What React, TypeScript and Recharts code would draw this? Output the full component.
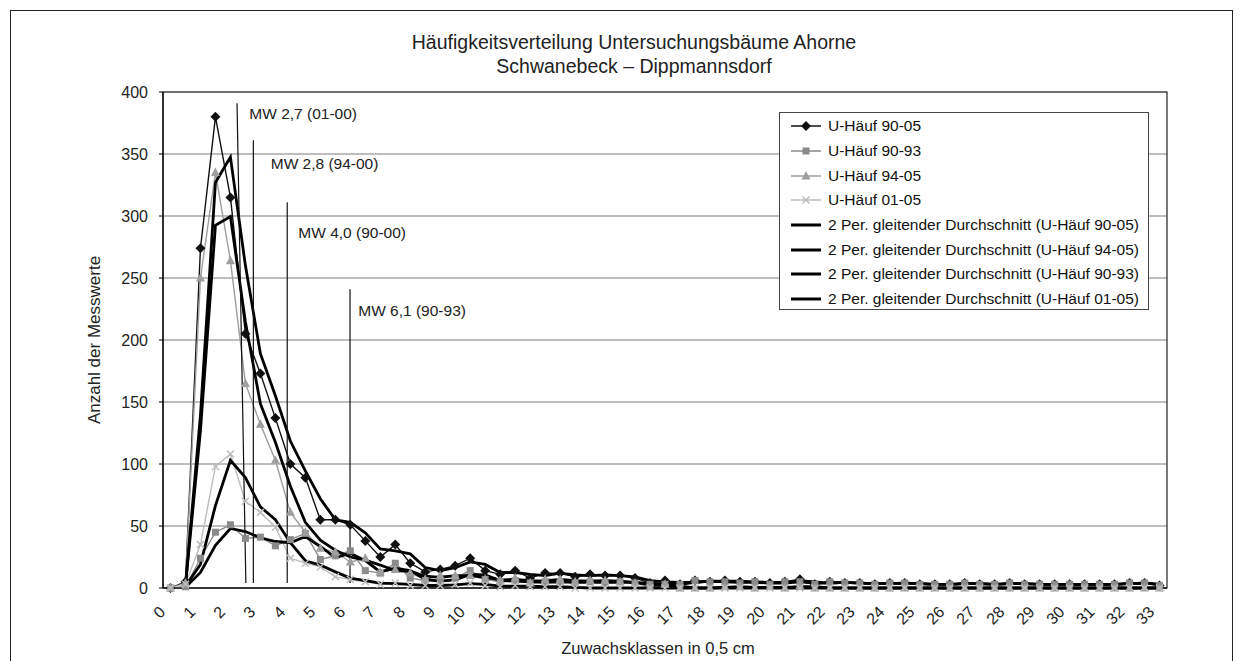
import React from "react";
import {
  LineChart,
  Line,
  XAxis,
  YAxis,
  CartesianGrid,
  ReferenceLine,
  ReferenceArea,
  ReferenceDot,
  Legend,
} from "recharts";

const FONT = '"Liberation Sans", Arial, sans-serif';

// x labels, one per whole class (every second 0,5 cm class)
const tickLabels = [
  "0", "1", "2", "3", "4", "5", "6", "7", "8", "9", "10", "11", "12", "13", "14", "15", "16",
  "17", "18", "19", "20", "21", "22", "23", "24", "25", "26", "27", "28", "29", "30", "31", "32", "33",
];

// counts per 0,5 cm class (67 classes: 0, 0,5, 1, ... 33)
const u9005 = [
  0, 5, 274, 380, 315, 205, 173, 137, 100, 89, 55, 55, 51, 38, 25, 35, 20, 13, 15, 18, 24, 14, 11, 14, 8, 12,
  12, 9, 11, 10, 10, 8, 4, 6, 3, 6, 5, 6, 5, 5, 4, 5, 7, 3, 5, 4, 4, 3, 4, 4, 3, 3, 3, 4, 3, 3, 4, 3, 3, 3, 3,
  3, 3, 3, 4, 4, 2,
];
const u9093 = [
  0, 1, 24, 45, 51, 40, 41, 34, 39, 44, 23, 26, 30, 14, 12, 20, 8, 6, 5, 8, 14, 7, 5, 6, 4, 5, 5, 4, 5, 4, 5,
  4, 3, 3, 3, 6, 5, 5, 4, 5, 3, 5, 5, 3, 5, 4, 4, 3, 4, 4, 3, 3, 3, 4, 3, 3, 4, 3, 3, 3, 3, 3, 3, 3, 4, 4, 2,
];
const u9405 = [
  0, 4, 250, 335, 264, 165, 132, 103, 61, 45, 32, 29, 21, 24, 13, 15, 12, 7, 10, 10, 10, 7, 6, 8, 4, 7, 7, 5,
  6, 6, 5, 4, 1, 3, 0, 0, 0, 1, 1, 0, 1, 0, 2, 0, 0, 0, 0, 0, 0, 0, 0, 0, 0, 0, 0, 0, 0, 0, 0, 0, 0, 0, 0, 0,
  0, 0, 0,
];
const u0105 = [
  0, 3, 35, 98, 108, 70, 61, 49, 24, 20, 17, 9, 7, 5, 3, 4, 2, 2, 2, 3, 4, 2, 1, 2, 1, 1, 1, 0, 0, 0, 0, 0, 0,
  0, 0, 0, 0, 0, 0, 0, 0, 0, 0, 0, 0, 0, 0, 0, 0, 0, 0, 0, 0, 0, 0, 0, 0, 0, 0, 0, 0, 0, 0, 0, 0, 0, 0,
];

// mean value markers (class index / count units)
const mwLabels = ["MW 2,7 (01-00)", "MW 2,8 (94-00)", "MW 4,0 (90-00)", "MW 6,1 (90-93)"];
const mwTopX = [4.44, 5.53, 7.79, 11.98];
const mwBottomX = [5.03, 5.53, 7.79, 11.98];
const mwTopY = [391, 361, 311, 241];
const mwBottomY = 4;
const mwTextX = [5.26, 6.69, 8.53, 12.53];
const mwTextY = [382.5, 342, 287, 224];

const series = [
  { key: "u9005", name: "U-Häuf 90-05", values: u9005, color: "#111111", marker: "diamond" },
  { key: "u9093", name: "U-Häuf 90-93", values: u9093, color: "#8a8a8a", marker: "square" },
  { key: "u9405", name: "U-Häuf 94-05", values: u9405, color: "#9e9e9e", marker: "triangle" },
  { key: "u0105", name: "U-Häuf 01-05", values: u0105, color: "#bdbdbd", marker: "cross" },
];
// trendline order as in the legend
const maOrder = ["u9005", "u9405", "u9093", "u0105"];
const legendOrder = [...series.map((s) => s.key), ...maOrder.map((k) => "ma_" + k)];

// Excel "2 Per. gleitender Durchschnitt" trendline
const movingAvg = (vals: number[], i: number) => (i === 0 ? null : (vals[i - 1] + vals[i]) / 2);

const rows = u9005.map((_, i) => {
  const row: any = { i };
  series.forEach((s) => {
    row[s.key] = s.values[i];
    row["ma_" + s.key] = movingAvg(s.values, i);
  });
  return row;
});

const Marker = ({ kind, cx, cy, color }: any) => {
  if (cx == null || cy == null) return <g />;
  if (kind === "diamond")
    return <polygon points={`${cx},${cy - 5} ${cx + 5},${cy} ${cx},${cy + 5} ${cx - 5},${cy}`} fill={color} />;
  if (kind === "square") return <rect x={cx - 3.5} y={cy - 3.5} width={7} height={7} fill={color} />;
  if (kind === "triangle")
    return <polygon points={`${cx},${cy - 5} ${cx + 4.5},${cy + 3.5} ${cx - 4.5},${cy + 3.5}`} fill={color} />;
  return (
    <g stroke={color} strokeWidth={1.5}>
      <line x1={cx - 3.5} y1={cy - 3.5} x2={cx + 3.5} y2={cy + 3.5} />
      <line x1={cx - 3.5} y1={cy + 3.5} x2={cx + 3.5} y2={cy - 3.5} />
    </g>
  );
};

const XTick = ({ x, y, payload }: any) => {
  const ax = x - 8;
  const ay = y + 13;
  return (
    <text
      x={ax}
      y={ay}
      transform={`rotate(-45, ${ax}, ${ay})`}
      textAnchor="end"
      dominantBaseline="central"
      fontSize={16}
      fontFamily={FONT}
      fill="#222"
    >
      {tickLabels[payload.value / 2]}
    </text>
  );
};

const LegendBox = ({ payload }: any) => {
  const items = [...(payload || [])].sort(
    (a: any, b: any) => legendOrder.indexOf(String(a.dataKey)) - legendOrder.indexOf(String(b.dataKey))
  );
  return (
    <div
      style={{
        border: "1px solid #444",
        background: "#fff",
        width: 368,
        height: 195,
        paddingTop: 1,
        fontFamily: FONT,
        fontSize: 15.5,
        color: "#111",
      }}
    >
      {items.map((e: any) => {
        const key = String(e.dataKey);
        const isMa = key.startsWith("ma_");
        const s = series.find((d) => d.key === key.replace("ma_", ""))!;
        return (
          <div key={key} style={{ height: 24.7, display: "flex", alignItems: "center", whiteSpace: "nowrap" }}>
            <svg width={34} height={14} style={{ marginLeft: 10, marginRight: 4 }}>
              {isMa ? (
                <line x1={1} y1={7} x2={31} y2={7} stroke="#000" strokeWidth={3} />
              ) : (
                <>
                  <line x1={1} y1={7} x2={31} y2={7} stroke={s.color} strokeWidth={1.5} />
                  <Marker kind={s.marker} cx={16} cy={7} color={s.color} />
                </>
              )}
            </svg>
            <span>{e.value}</span>
          </div>
        );
      })}
    </div>
  );
};

const bounds = Array.from({ length: 68 }, (_, k) => k - 0.5);

export default function App() {
  return (
    <div style={{ position: "absolute", left: 0, top: 0, width: 1244, height: 661, background: "#fff", fontFamily: FONT }}>
      <div
        style={{
          position: "absolute",
          left: 10,
          top: 10,
          width: 1221,
          height: 670,
          border: "1px solid #222",
          pointerEvents: "none",
        }}
      />
      <div style={{ position: "absolute", left: 0, top: 30, width: 1268, textAlign: "center", fontSize: 19.5, lineHeight: "24px", color: "#222" }}>
        Häufigkeitsverteilung Untersuchungsbäume Ahorne
      </div>
      <div style={{ position: "absolute", left: 0, top: 54, width: 1268, textAlign: "center", fontSize: 19.5, lineHeight: "24px", color: "#222" }}>
        Schwanebeck – Dippmannsdorf
      </div>
      <div
        style={{
          position: "absolute",
          left: 95 - 150,
          top: 340 - 12,
          width: 300,
          height: 24,
          lineHeight: "24px",
          textAlign: "center",
          fontSize: 17,
          color: "#222",
          transform: "rotate(-90deg)",
        }}
      >
        Anzahl der Messwerte
      </div>
      <div
        style={{
          position: "absolute",
          left: 658 - 200,
          top: 648 - 12,
          width: 400,
          height: 24,
          lineHeight: "24px",
          textAlign: "center",
          fontSize: 16.5,
          color: "#222",
        }}
      >
        Zuwachsklassen in 0,5 cm
      </div>
      <div style={{ position: "absolute", left: 0, top: 0 }}>
        <LineChart width={1244} height={661} data={rows} margin={{ top: 92, right: 77, bottom: 33, left: 103 }}>
          <CartesianGrid vertical={false} stroke="#7d7d7d" strokeWidth={1.2} />
          <XAxis
            xAxisId="m"
            type="number"
            dataKey="i"
            domain={[-0.5, 66.5]}
            ticks={bounds}
            interval={0}
            allowDataOverflow
            axisLine={false}
            tickLine={{ stroke: "#000" }}
            tickSize={5}
            tick={() => <g />}
            height={0}
          />
          <XAxis
            type="number"
            dataKey="i"
            domain={[-0.5, 66.5]}
            ticks={tickLabels.map((_, k) => k * 2)}
            interval={0}
            allowDataOverflow
            axisLine={{ stroke: "#000", strokeWidth: 1.2 }}
            tickLine={false}
            tick={<XTick />}
            height={40}
          />
          <YAxis
            type="number"
            domain={[0, 400]}
            ticks={[0, 50, 100, 150, 200, 250, 300, 350, 400]}
            width={60}
            axisLine={{ stroke: "#000", strokeWidth: 1.2 }}
            tickLine={{ stroke: "#000" }}
            tickSize={4}
            tickMargin={11}
            tick={{ fontSize: 16, fill: "#222", fontFamily: FONT }}
          />
          <ReferenceArea x1={-0.5} x2={66.5} y1={0} y2={400} fill="none" stroke="#222" strokeWidth={1.2} ifOverflow="visible" />
          {series.map((s) => (
            <Line
              key={s.key}
              type="linear"
              dataKey={s.key}
              name={s.name}
              stroke={s.color}
              strokeWidth={1.4}
              isAnimationActive={false}
              dot={(p: any) => <Marker key={`${s.key}-${p.index}`} kind={s.marker} cx={p.cx} cy={p.cy} color={s.color} />}
              activeDot={false}
            />
          ))}
          {maOrder.map((k) => {
            const s = series.find((d) => d.key === k)!;
            return (
              <Line
                key={"ma_" + k}
                type="linear"
                dataKey={"ma_" + k}
                name={`2 Per. gleitender Durchschnitt (${s.name})`}
                stroke="#000"
                strokeWidth={2.8}
                dot={false}
                activeDot={false}
                isAnimationActive={false}
              />
            );
          })}
          {mwLabels.map((label, k) => (
            <ReferenceLine
              key={label}
              segment={[
                { x: mwTopX[k], y: mwTopY[k] },
                { x: mwBottomX[k], y: mwBottomY },
              ]}
              stroke="#111"
              strokeWidth={1.2}
              ifOverflow="visible"
            />
          ))}
          {mwLabels.map((label, k) => (
            <ReferenceDot
              key={"t" + label}
              x={mwTextX[k]}
              y={mwTextY[k]}
              r={0}
              ifOverflow="visible"
              shape={(p: any) => (
                <text x={p.cx} y={p.cy} dominantBaseline="central" fontSize={15.5} fontFamily={FONT} fill="#222">
                  {label}
                </text>
              )}
            />
          ))}
          <Legend
            layout="vertical"
            align="center"
            verticalAlign="middle"
            wrapperStyle={{ top: 112, left: 779, width: 370 }}
            content={<LegendBox />}
          />
        </LineChart>
      </div>
    </div>
  );
}
